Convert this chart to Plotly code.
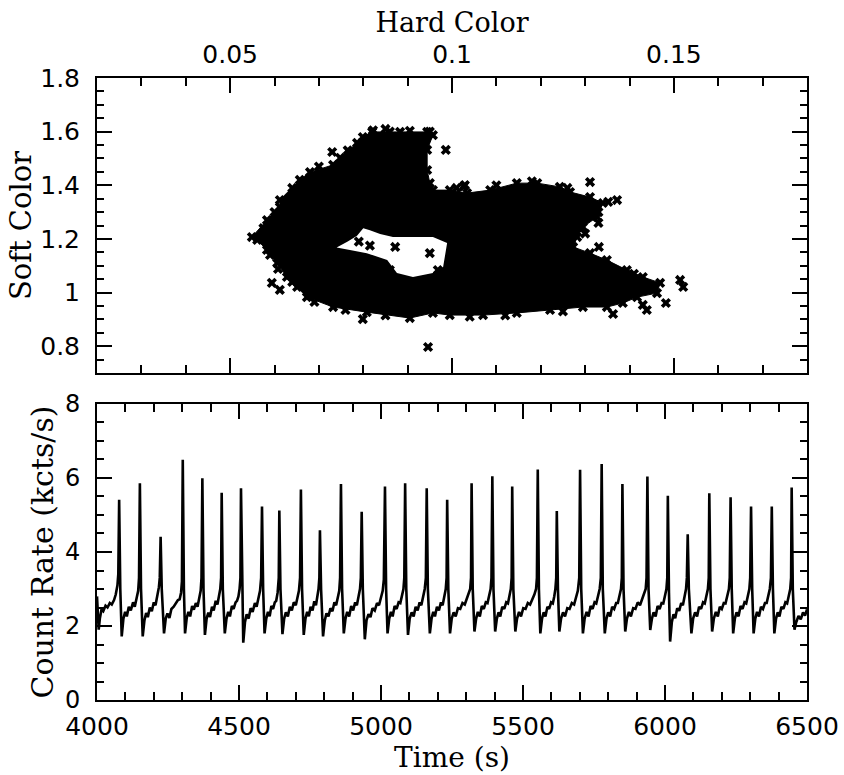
import plotly.graph_objects as go

# ---------------- Top panel: colour-colour diagram ----------------
# outline of the dense cloud of points (Hard Color, Soft Color)
cloud_hard = [0.0549, 0.0583, 0.0612, 0.0612, 0.0657, 0.0680, 0.0732, 0.0748, 0.0786, 0.0799,
              0.0820, 0.0883, 0.0944, 0.0957, 0.0944, 0.0944, 0.0950, 0.0957, 0.0995, 0.1034,
              0.1086, 0.1146, 0.1192, 0.1243, 0.1266, 0.1311, 0.1340, 0.1327, 0.1295, 0.1282,
              0.1273, 0.1311, 0.1349, 0.1394, 0.1430, 0.1469, 0.1462, 0.1417, 0.1385, 0.1349,
              0.1295, 0.1221, 0.1146, 0.1070, 0.0995, 0.0957, 0.0905, 0.0808, 0.0732, 0.0673,
              0.0651, 0.0628, 0.0606, 0.0583, 0.0561]
cloud_soft = [1.207, 1.270, 1.319, 1.345, 1.420, 1.449, 1.476, 1.502, 1.558, 1.580,
              1.599, 1.599, 1.599, 1.587, 1.532, 1.457, 1.408, 1.382, 1.382, 1.371,
              1.382, 1.408, 1.408, 1.394, 1.375, 1.356, 1.334, 1.282, 1.244, 1.207,
              1.170, 1.147, 1.121, 1.084, 1.058, 1.036, 0.998, 0.983, 0.961, 0.946,
              0.946, 0.935, 0.924, 0.916, 0.916, 0.924, 0.905, 0.927, 0.946, 0.983,
              1.021, 1.058, 1.110, 1.159, 1.196]

# empty region inside the cloud
hole_hard = [0.0740, 0.0765, 0.0786, 0.0800, 0.0815, 0.0838, 0.0867, 0.0912, 0.0957,
             0.0989, 0.0980, 0.0957, 0.0912, 0.0876, 0.0854, 0.0808, 0.0770]
hole_soft = [1.168, 1.190, 1.212, 1.240, 1.232, 1.218, 1.207, 1.207, 1.207,
             1.185, 1.095, 1.073, 1.058, 1.073, 1.121, 1.147, 1.159]

# isolated points and points on the cloud's ragged edge
out_hard = [0.0730, 0.0986, 0.1027, 0.0608, 0.0594, 0.0612, 0.0799, 0.0946, 0.0872, 0.0950,
            0.0968, 0.0860, 0.1311, 0.1372, 0.1352, 0.1331, 0.1514, 0.1521, 0.1482, 0.1430,
            0.1439, 0.1363, 0.1029, 0.0822, 0.0860, 0.0905, 0.0950,
            0.0575, 0.0600, 0.0640, 0.0700, 0.0765, 0.0850, 0.0935, 0.1010, 0.1100, 0.1180,
            0.1260, 0.1330, 0.1410, 0.1455, 0.1250, 0.1120, 0.1040, 0.0850, 0.0760, 0.0690,
            0.0640, 0.0590, 0.1230, 0.1300, 0.1330, 0.0790, 0.0815]
out_soft = [1.524, 1.532, 1.397, 1.088, 1.036, 1.010, 0.901, 0.797, 1.170, 1.147,
            1.084, 1.084, 1.412, 1.345, 1.338, 1.170, 1.047, 1.021, 0.961, 0.954,
            0.935, 0.920, 1.401, 1.605, 1.600, 1.603, 1.600,
            1.240, 1.300, 1.390, 1.470, 1.530, 1.610, 1.560, 1.390, 1.400, 1.415,
            1.390, 1.300, 1.070, 1.015, 0.930, 0.915, 0.910, 0.915, 0.935, 0.965,
            1.040, 1.140, 1.190, 1.220, 1.260, 1.190, 1.175]

hard_ticks = [0.05, 0.1, 0.15]
soft_ticks = [0.8, 1.0, 1.2, 1.4, 1.6, 1.8]

# ---------------- Bottom panel: light curve ----------------
time_s = [
    4000, 4003, 4006, 4010, 4016, 4022, 4030, 4037, 4045, 4052, 4060, 4066, 4072, 4075, 4078,
    4082, 4087, 4093, 4099, 4105, 4112, 4119, 4127, 4133, 4140, 4145, 4148, 4151,
    4155, 4161, 4167, 4173, 4179, 4186, 4193, 4200, 4206, 4212, 4218, 4221, 4224,
    4228, 4236, 4242, 4248, 4255, 4262, 4270, 4278, 4285, 4291, 4296, 4299, 4302,
    4306, 4310, 4316, 4322, 4328, 4335, 4341, 4348, 4354, 4360, 4365, 4368, 4371,
    4375, 4380, 4386, 4392, 4398, 4405, 4411, 4418, 4424, 4429, 4434, 4437, 4439,
    4443, 4450, 4456, 4462, 4468, 4475, 4481, 4488, 4493, 4498, 4502, 4505, 4507,
    4511, 4515, 4521, 4527, 4534, 4541, 4548, 4556, 4562, 4569, 4574, 4578, 4581,
    4585, 4590, 4596, 4602, 4608, 4614, 4620, 4626, 4631, 4636, 4640, 4642,
    4646, 4653, 4659, 4665, 4672, 4679, 4686, 4693, 4700, 4706, 4711, 4715, 4718,
    4722, 4728, 4734, 4740, 4746, 4752, 4759, 4765, 4771, 4776, 4780, 4783, 4785,
    4789, 4796, 4802, 4808, 4815, 4822, 4829, 4836, 4842, 4848, 4853, 4856, 4859,
    4863, 4869, 4875, 4881, 4888, 4895, 4902, 4909, 4915, 4921, 4926, 4929, 4932,
    4936, 4943, 4949, 4956, 4963, 4970, 4978, 4986, 4993, 5000, 5006, 5010, 5014,
    5018, 5023, 5029, 5035, 5041, 5048, 5055, 5062, 5068, 5074, 5079, 5082, 5085,
    5089, 5095, 5101, 5108, 5115, 5122, 5129, 5136, 5142, 5149, 5154, 5158, 5161,
    5165, 5172, 5178, 5184, 5190, 5197, 5204, 5211, 5217, 5223, 5228, 5231, 5233,
    5237, 5243, 5249, 5256, 5263, 5271, 5279, 5287, 5295, 5302, 5309, 5314, 5317, 5319,
    5323, 5329, 5335, 5341, 5348, 5355, 5362, 5369, 5375, 5381, 5386, 5389, 5392,
    5396, 5402, 5408, 5414, 5420, 5427, 5434, 5441, 5447, 5452, 5457, 5460, 5462,
    5466, 5473, 5479, 5486, 5493, 5501, 5509, 5517, 5525, 5533, 5540, 5546, 5549, 5552,
    5556, 5561, 5567, 5573, 5579, 5586, 5592, 5599, 5605, 5610, 5614, 5617, 5619,
    5623, 5628, 5634, 5641, 5648, 5656, 5664, 5672, 5680, 5687, 5693, 5698, 5701,
    5705, 5711, 5717, 5724, 5731, 5738, 5745, 5752, 5758, 5765, 5770, 5774, 5777,
    5781, 5788, 5794, 5800, 5807, 5814, 5821, 5828, 5834, 5840, 5845, 5848, 5850,
    5854, 5860, 5866, 5873, 5880, 5888, 5896, 5904, 5912, 5920, 5927, 5932, 5935, 5938,
    5942, 5948, 5954, 5960, 5967, 5974, 5981, 5988, 5994, 6000, 6005, 6008, 6010,
    6014, 6018, 6024, 6030, 6036, 6043, 6050, 6057, 6063, 6069, 6074, 6077, 6080,
    6084, 6093, 6099, 6106, 6113, 6120, 6127, 6134, 6140, 6146, 6151, 6154, 6156,
    6160, 6166, 6172, 6179, 6186, 6193, 6200, 6207, 6213, 6220, 6225, 6228, 6231,
    6235, 6240, 6246, 6252, 6259, 6266, 6273, 6280, 6286, 6292, 6297, 6300, 6303,
    6307, 6312, 6318, 6324, 6331, 6338, 6345, 6352, 6358, 6364, 6369, 6373, 6376,
    6380, 6385, 6391, 6397, 6403, 6410, 6417, 6424, 6430, 6436, 6441, 6444, 6446,
    6450, 6456, 6462, 6470, 6478, 6486, 6493, 6500,
]
count_rate = [
    2.80, 2.20, 1.90, 2.20, 2.45, 2.40, 2.55, 2.50, 2.62, 2.58, 2.70, 2.85, 3.10, 3.40, 5.41,
    3.00, 1.72, 2.20, 2.38, 2.26, 2.52, 2.42, 2.64, 2.52, 2.75, 2.95, 3.30, 5.86,
    3.00, 1.72, 2.15, 2.35, 2.24, 2.50, 2.40, 2.64, 2.56, 2.80, 3.05, 3.30, 4.41,
    3.00, 1.80, 2.20, 2.34, 2.22, 2.46, 2.52, 2.62, 2.70, 2.72, 2.90, 3.20, 6.49,
    3.00, 1.80, 2.22, 2.38, 2.26, 2.54, 2.44, 2.62, 2.52, 2.76, 2.95, 3.30, 5.99,
    3.00, 1.76, 2.20, 2.36, 2.24, 2.52, 2.42, 2.68, 2.58, 2.80, 3.00, 3.30, 5.60,
    3.00, 1.80, 2.20, 2.38, 2.26, 2.54, 2.46, 2.64, 2.68, 2.80, 3.00, 3.30, 5.72,
    2.90, 1.55, 2.10, 2.32, 2.20, 2.48, 2.38, 2.62, 2.52, 2.75, 2.95, 3.30, 5.23,
    3.00, 1.80, 2.20, 2.38, 2.26, 2.54, 2.46, 2.64, 2.68, 2.90, 3.30, 5.12,
    3.00, 1.78, 2.20, 2.37, 2.26, 2.52, 2.42, 2.64, 2.56, 2.76, 2.95, 3.30, 5.69,
    3.00, 1.76, 2.20, 2.38, 2.26, 2.52, 2.42, 2.67, 2.56, 2.80, 3.00, 3.30, 4.59,
    3.00, 1.72, 2.15, 2.34, 2.26, 2.48, 2.40, 2.64, 2.56, 2.75, 2.95, 3.30, 5.84,
    3.00, 1.80, 2.20, 2.38, 2.26, 2.54, 2.42, 2.64, 2.56, 2.80, 3.00, 3.30, 5.09,
    3.00, 1.64, 2.15, 2.32, 2.24, 2.48, 2.42, 2.62, 2.56, 2.75, 2.95, 3.25, 5.77,
    3.00, 1.80, 2.20, 2.38, 2.26, 2.54, 2.46, 2.64, 2.62, 2.80, 3.00, 3.30, 5.86,
    3.00, 1.76, 2.20, 2.37, 2.26, 2.52, 2.42, 2.64, 2.56, 2.80, 3.00, 3.30, 5.72,
    3.00, 1.80, 2.20, 2.38, 2.26, 2.52, 2.42, 2.64, 2.56, 2.80, 3.00, 3.30, 5.41,
    3.00, 1.80, 2.20, 2.37, 2.26, 2.48, 2.46, 2.62, 2.58, 2.72, 2.85, 3.00, 3.30, 5.86,
    3.00, 1.85, 2.20, 2.38, 2.26, 2.54, 2.46, 2.64, 2.62, 2.80, 3.00, 3.30, 6.05,
    3.00, 1.85, 2.20, 2.37, 2.26, 2.52, 2.46, 2.64, 2.61, 2.80, 3.00, 3.30, 5.77,
    3.00, 1.85, 2.20, 2.38, 2.26, 2.48, 2.46, 2.62, 2.58, 2.72, 2.85, 3.00, 3.30, 6.23,
    3.00, 1.80, 2.20, 2.37, 2.26, 2.52, 2.46, 2.64, 2.61, 2.80, 3.00, 3.30, 5.11,
    3.00, 1.85, 2.20, 2.37, 2.26, 2.48, 2.46, 2.62, 2.58, 2.75, 2.95, 3.30, 6.22,
    3.00, 1.80, 2.20, 2.38, 2.26, 2.54, 2.46, 2.64, 2.61, 2.80, 3.00, 3.30, 6.38,
    3.00, 1.80, 2.20, 2.37, 2.26, 2.52, 2.46, 2.62, 2.62, 2.80, 3.00, 3.30, 5.84,
    3.00, 1.85, 2.20, 2.38, 2.26, 2.48, 2.46, 2.64, 2.56, 2.72, 2.85, 3.00, 3.30, 6.04,
    3.00, 1.89, 2.20, 2.37, 2.26, 2.54, 2.46, 2.62, 2.61, 2.80, 3.00, 3.30, 5.52,
    2.90, 1.58, 2.10, 2.32, 2.21, 2.48, 2.41, 2.62, 2.56, 2.80, 3.00, 3.30, 4.48,
    3.00, 1.80, 2.20, 2.37, 2.26, 2.52, 2.46, 2.64, 2.61, 2.80, 3.00, 3.30, 5.59,
    3.00, 1.85, 2.20, 2.38, 2.26, 2.52, 2.46, 2.62, 2.61, 2.80, 3.00, 3.30, 5.48,
    3.00, 1.80, 2.20, 2.37, 2.26, 2.54, 2.46, 2.64, 2.61, 2.80, 3.00, 3.30, 5.23,
    3.00, 1.80, 2.20, 2.38, 2.26, 2.52, 2.46, 2.62, 2.62, 2.80, 3.00, 3.30, 5.23,
    3.00, 1.80, 2.20, 2.37, 2.26, 2.52, 2.46, 2.64, 2.61, 2.80, 3.00, 3.30, 5.74,
    3.00, 1.90, 2.10, 2.27, 2.18, 2.37, 2.28, 2.45,
]

time_ticks = [4000, 4500, 5000, 5500, 6000, 6500]
rate_ticks = [0, 2, 4, 6, 8]

# ---------------- Figure ----------------
fig = go.Figure()

fig.add_trace(go.Scatter(x=cloud_hard, y=cloud_soft, mode="lines", fill="toself",
                         fillcolor="black", line=dict(color="black", width=1),
                         xaxis="x", yaxis="y", hoverinfo="skip"))
fig.add_trace(go.Scatter(x=hole_hard, y=hole_soft, mode="lines", fill="toself",
                         fillcolor="white", line=dict(color="white", width=0),
                         xaxis="x", yaxis="y", hoverinfo="skip"))
fig.add_trace(go.Scatter(x=cloud_hard, y=cloud_soft, mode="markers",
                         marker=dict(symbol="x", size=9, color="black"),
                         xaxis="x", yaxis="y"))
fig.add_trace(go.Scatter(x=out_hard, y=out_soft, mode="markers",
                         marker=dict(symbol="x", size=9, color="black"),
                         xaxis="x", yaxis="y"))

fig.add_trace(go.Scatter(x=time_s, y=count_rate, mode="lines",
                         line=dict(color="black", width=2.6),
                         xaxis="x2", yaxis="y2"))

tickfont = dict(family="DejaVu Sans", size=25, color="black")


def tfont(size):
    return dict(family="DejaVu Serif", size=size, color="black")


common = dict(showline=True, linecolor="black", linewidth=2, mirror="ticks",
              ticks="inside", tickcolor="black", tickwidth=2, ticklen=15,
              showgrid=False, zeroline=False, tickfont=tickfont, automargin=False)

fig.update_layout(
    width=844, height=775,
    margin=dict(l=97, r=37, t=78, b=75),
    paper_bgcolor="white", plot_bgcolor="white",
    showlegend=False,
    xaxis=dict(domain=[0, 1], anchor="y", side="top", range=[0.02, 0.18],
               tickvals=hard_ticks, ticktext=["0.05", "0.1", "0.15"],
               ticklabelstandoff=3,
               minor=dict(dtick=0.01, tick0=0, ticks="inside", ticklen=8,
                          tickwidth=2, tickcolor="black"),
               title=dict(text="Hard Color", font=tfont(27), standoff=0),
               **common),
    yaxis=dict(domain=[0.5257, 1], anchor="x", range=[0.7, 1.8],
               tickvals=soft_ticks, ticktext=["0.8", "1", "1.2", "1.4", "1.6", "1.8"],
               ticklabelstandoff=10,
               minor=dict(dtick=0.05, tick0=0, ticks="inside", ticklen=7,
                          tickwidth=2, tickcolor="black"),
               title=dict(text="Soft Color", font=tfont(29), standoff=0),
               **common),
    xaxis2=dict(domain=[0, 1], anchor="y2", range=[4000, 6500],
                tickvals=time_ticks, ticklabelstandoff=3,
                minor=dict(dtick=100, tick0=0, ticks="inside", ticklen=8,
                           tickwidth=2, tickcolor="black"),
                title=dict(text="Time (s)", font=tfont(28), standoff=0),
                **common),
    yaxis2=dict(domain=[0, 0.4759], anchor="x2", range=[0, 8],
                tickvals=rate_ticks, ticklabelstandoff=10,
                tickfont=dict(family="DejaVu Sans", size=24, color="black"),
                minor=dict(dtick=0.5, tick0=0, ticks="inside", ticklen=7,
                           tickwidth=2, tickcolor="black"),
                title=dict(text="Count Rate (kcts/s)", font=tfont(30), standoff=2),
                **{k: v for k, v in common.items() if k != "tickfont"}),
)

fig.write_html("out.html", config={"displayModeBar": False},
               post_script="document.body.style.margin='0px';")
